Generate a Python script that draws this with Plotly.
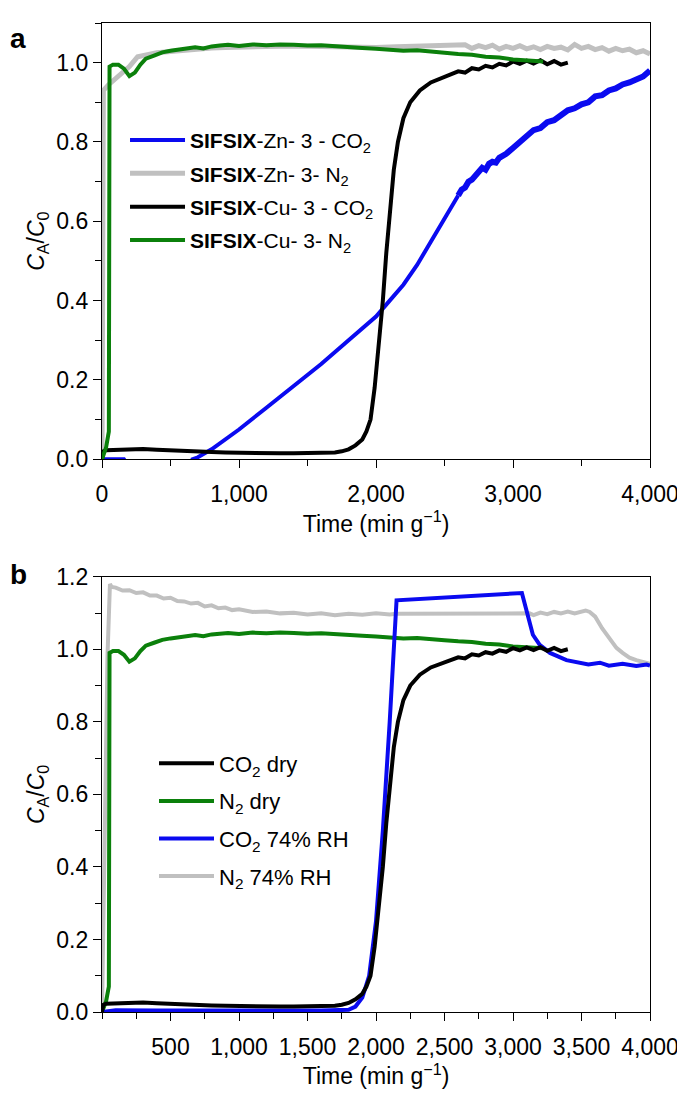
import plotly.graph_objects as go

# ---------------- data ----------------
# Shared: SIFSIX-Cu-3 CO2 (dry) breakthrough
cu_co2_t = [0, 10, 30, 100, 200, 300, 400, 500, 600, 700, 800, 900, 1000, 1100, 1200, 1300,
            1400, 1500, 1600, 1700, 1750, 1800, 1850, 1900, 1930, 1960, 1990, 2020, 2050, 2075,
            2100, 2130, 2160, 2200, 2250, 2320, 2400, 2500, 2600, 2650, 2700, 2750, 2800, 2850,
            2900, 2950, 3000, 3050, 3100, 3150, 3200, 3250, 3300, 3350, 3400]
cu_co2_v = [0.0, 0.020, 0.023, 0.024, 0.025, 0.026, 0.024, 0.022, 0.020, 0.019, 0.018, 0.017,
            0.016, 0.016, 0.015, 0.015, 0.015, 0.015, 0.015, 0.017, 0.020, 0.025, 0.035, 0.050,
            0.070, 0.10, 0.18, 0.28, 0.40, 0.52, 0.63, 0.73, 0.80, 0.86, 0.90, 0.93, 0.950,
            0.965, 0.978, 0.975, 0.986, 0.983, 0.992, 0.988, 0.997, 0.993, 1.003, 0.997, 1.005,
            0.998, 1.006, 0.996, 1.004, 0.995, 1.000]

# Shared: SIFSIX-Cu-3 N2 (dry)
cu_n2_t = [0, 30, 45, 50, 55, 80, 120, 160, 200, 240, 280, 320, 380, 440, 500, 560, 620, 680,
           740, 800, 860, 920, 1000, 1100, 1200, 1300, 1400, 1500, 1600, 1700, 1800, 1900, 2000,
           2100, 2200, 2300, 2400, 2500, 2600, 2700, 2800, 2900, 3000, 3100, 3200, 3220]
cu_n2_v = [0.0, 0.03, 0.06, 0.07, 0.99, 0.995, 0.995, 0.985, 0.966, 0.975, 0.995, 1.010, 1.018,
           1.026, 1.030, 1.033, 1.037, 1.039, 1.036, 1.041, 1.043, 1.045, 1.042, 1.046, 1.044,
           1.046, 1.045, 1.043, 1.044, 1.041, 1.040, 1.037, 1.035, 1.032, 1.030, 1.031, 1.027,
           1.025, 1.022, 1.020, 1.015, 1.013, 1.008, 1.006, 1.004, 1.003]

# Panel a: SIFSIX-Zn-3 CO2 (smooth part, then noisy part)
zn_co2_t = [0, 160, 200, 640, 660, 700, 800, 900, 1000, 1200, 1400, 1600, 1800, 2000, 2100,
            2200, 2300, 2400, 2500, 2600]
zn_co2_v = [0.0, 0.0, -0.02, -0.02, 0.0, 0.005, 0.025, 0.05, 0.075, 0.13, 0.185, 0.24, 0.30,
            0.36, 0.40, 0.44, 0.49, 0.55, 0.61, 0.665]
zn_co2_noisy_t = [2600, 2625, 2650, 2675, 2700, 2725, 2750, 2775, 2800, 2825, 2850, 2875, 2900,
                  2950, 3000, 3050, 3100, 3150, 3200, 3250, 3300, 3350, 3400, 3450, 3500, 3550,
                  3600, 3650, 3700, 3750, 3800, 3850, 3900, 3950, 4000]
zn_co2_noisy_v = [0.665, 0.68, 0.685, 0.70, 0.705, 0.715, 0.72, 0.735, 0.73, 0.745, 0.75, 0.748,
                  0.76, 0.77, 0.785, 0.80, 0.81, 0.83, 0.835, 0.85, 0.855, 0.868, 0.88, 0.885,
                  0.895, 0.90, 0.915, 0.918, 0.93, 0.935, 0.945, 0.95, 0.958, 0.965, 0.98]

# Panel a: SIFSIX-Zn-3 N2
zn_n2_t = [0, 5, 10, 50, 100, 150, 200, 260, 320, 400, 500, 600, 700, 800, 900, 1000, 1200,
           1400, 1600, 1800, 2000, 2150, 2650, 2700, 2750, 2800, 2850, 2900, 2950, 3000, 3050,
           3100, 3150, 3200, 3250, 3300, 3350, 3400, 3450, 3500, 3550, 3600, 3650, 3700, 3750,
           3800, 3850, 3900, 3950, 4000]
zn_n2_v = [0.0, 0.60, 0.93, 0.945, 0.96, 0.975, 0.99, 1.015, 1.02, 1.025, 1.028, 1.032, 1.035,
           1.037, 1.038, 1.040, 1.041, 1.042, 1.040, 1.041, 1.038, 1.040, 1.045, 1.036, 1.043,
           1.038, 1.044, 1.034, 1.041, 1.036, 1.043, 1.035, 1.040, 1.033, 1.041, 1.036, 1.039,
           1.032, 1.046, 1.036, 1.041, 1.033, 1.038, 1.029, 1.036, 1.030, 1.034, 1.025, 1.030,
           1.022]

# Panel b: CO2 74% RH
rh_co2_t = [0, 100, 400, 800, 1200, 1600, 1800, 1850, 1900, 1950, 2000, 2050, 2100, 2130,
            2150, 3065, 3110, 3145, 3195, 3270, 3390, 3450, 3500, 3550, 3635, 3700, 3800, 3900,
            3975, 4000]
rh_co2_v = [0.0, 0.005, 0.004, 0.004, 0.003, 0.004, 0.006, 0.015, 0.04, 0.10, 0.25, 0.50,
            0.80, 1.00, 1.135, 1.155, 1.085, 1.04, 1.012, 0.99, 0.97, 0.965, 0.962, 0.958,
            0.963, 0.955, 0.960, 0.954, 0.958, 0.955]

# Panel b: N2 74% RH
rh_n2_t = [0, 20, 40, 58, 70, 100, 150, 200, 250, 300, 350, 400, 450, 500, 550, 600, 650, 700,
           750, 800, 850, 900, 950, 1000, 1100, 1200, 1300, 1400, 1500, 1600, 1700, 1800, 1900,
           2000, 2100, 2150, 3120, 3150, 3200, 3250, 3300, 3350, 3400, 3450, 3500, 3530, 3560,
           3600, 3650, 3700, 3755, 3800, 3850, 3900, 3950, 4000]
rh_n2_v = [0.0, 0.55, 0.98, 1.18, 1.172, 1.17, 1.162, 1.163, 1.155, 1.157, 1.148, 1.148, 1.140,
           1.142, 1.133, 1.132, 1.126, 1.128, 1.118, 1.121, 1.113, 1.115, 1.108, 1.110, 1.103,
           1.104, 1.099, 1.101, 1.096, 1.099, 1.094, 1.098, 1.095, 1.099, 1.096, 1.098, 1.099,
           1.094, 1.101, 1.097, 1.103, 1.099, 1.104, 1.099, 1.105, 1.107, 1.103, 1.09, 1.058,
           1.03, 1.004, 0.99, 0.977, 0.97, 0.965, 0.96]

legend_a = ["<b>SIFSIX</b>-Zn- 3 - CO<sub>2</sub>", "<b>SIFSIX</b>-Zn- 3- N<sub>2</sub>",
            "<b>SIFSIX</b>-Cu- 3 - CO<sub>2</sub>", "<b>SIFSIX</b>-Cu- 3- N<sub>2</sub>"]
legend_b = ["CO<sub>2</sub> dry", "N<sub>2</sub> dry", "CO<sub>2</sub> 74% RH",
            "N<sub>2</sub> 74% RH"]

x_ticks_a = [0, 1000, 2000, 3000, 4000]
x_ticks_b = [500, 1000, 1500, 2000, 2500, 3000, 3500, 4000]

BLUE = "#0a0af0"
GRAY = "#c0c0c0"
BLACK = "#000000"
GREEN = "#0b800b"
FONT = "Liberation Sans, Arial, sans-serif"

fig = go.Figure()
LW = 4

def add(x, y, color, name, legend, rank, xa, ya, width=LW, show=True):
    fig.add_trace(go.Scatter(x=x, y=y, mode="lines", line=dict(color=color, width=width),
                             name=name, legend=legend, legendrank=rank, legendgroup=legend + name,
                             showlegend=show, xaxis=xa, yaxis=ya))

# panel a
add(zn_n2_t, zn_n2_v, GRAY, legend_a[1], "legend", 2, "x", "y", width=5)
add(zn_co2_t, zn_co2_v, BLUE, legend_a[0], "legend", 1, "x", "y")
add(zn_co2_noisy_t, zn_co2_noisy_v, BLUE, legend_a[0], "legend", 1, "x", "y", width=6, show=False)
add(cu_co2_t, cu_co2_v, BLACK, legend_a[2], "legend", 3, "x", "y")
add(cu_n2_t, cu_n2_v, GREEN, legend_a[3], "legend", 4, "x", "y")

# panel b
add(rh_n2_t, rh_n2_v, GRAY, legend_b[3], "legend2", 4, "x2", "y2")
add(cu_n2_t, cu_n2_v, GREEN, legend_b[1], "legend2", 2, "x2", "y2")
add(rh_co2_t, rh_co2_v, BLUE, legend_b[2], "legend2", 3, "x2", "y2")
add(cu_co2_t, cu_co2_v, BLACK, legend_b[0], "legend2", 1, "x2", "y2")

axis_common = dict(showline=True, linecolor="black", linewidth=1.3, mirror=True,
                   ticks="outside", ticklen=8, tickwidth=1.3, tickcolor="black",
                   showgrid=False, zeroline=False,
                   tickfont=dict(family=FONT, size=23, color="black"))
minor_common = dict(ticks="outside", ticklen=6, tickcolor="black", tickwidth=1.3)

xtitle = dict(text="Time (min g<sup>\u22121</sup>)", font=dict(family=FONT, size=23, color="black"),
              standoff=4)
ytitle = dict(text="<i>C</i><sub>A</sub>/<i>C</i><sub>0</sub>",
              font=dict(family=FONT, size=23, color="black"), standoff=5)

# The page body adds an 8 px offset, so the figure is 8 px smaller and margins shifted.
W, H = 677, 1086
ML, MR, MT, MB = 94, 35, 2, 82
plot_w = W - ML - MR
plot_h = H - MT - MB

fig.update_layout(
    width=W, height=H,
    margin=dict(l=ML, r=MR, t=MT, b=MB),
    paper_bgcolor="white", plot_bgcolor="white",
    showlegend=True,
    xaxis=dict(domain=[0, 1], anchor="y", range=[0, 4000], tickvals=x_ticks_a,
               tickformat=",d", ticklabelstandoff=6,
               minor=dict(dtick=500, tick0=0, **minor_common),
               title=xtitle, **axis_common),
    yaxis=dict(domain=[0.5589, 1], anchor="x", range=[0, 1.1], dtick=0.2, tick0=0,
               tickformat=".1f", minor=dict(dtick=0.1, tick0=0, **minor_common),
               title=ytitle, **axis_common),
    xaxis2=dict(domain=[0, 1], anchor="y2", range=[0, 4000], tickvals=x_ticks_b,
                tickformat=",d", ticklabelstandoff=6,
                minor=dict(dtick=250, tick0=0, **minor_common),
                title=xtitle, **axis_common),
    yaxis2=dict(domain=[0, 0.4401], anchor="x2", range=[0, 1.2], dtick=0.2, tick0=0,
                tickformat=".1f", minor=dict(dtick=0.1, tick0=0, **minor_common),
                title=ytitle, **axis_common),
    legend=dict(x=0.042, y=0.902, xanchor="left", yanchor="top", bgcolor="rgba(0,0,0,0)",
                font=dict(family=FONT, size=21, color="black"), tracegroupgap=3,
                itemwidth=55, traceorder="grouped"),
    legend2=dict(x=0.0949, y=0.2725, xanchor="left", yanchor="top", bgcolor="rgba(0,0,0,0)",
                 font=dict(family=FONT, size=22, color="black"), tracegroupgap=6,
                 itemwidth=55, traceorder="grouped"),
)

def px_to_paper(px, py):
    # screen pixel -> paper coords (screen = figure + 8)
    fx, fy = px - 8, py - 8
    return (fx - ML) / plot_w, 1 - (fy - MT) / plot_h

ax, ay = px_to_paper(8, 8)
bx, by = px_to_paper(8, 583)
fig.add_annotation(text="<b>a</b>", x=ax, y=ay, xref="paper", yref="paper", showarrow=False,
                   xanchor="left", yanchor="top",
                   font=dict(family=FONT, size=28, color="black"))
fig.add_annotation(text="<b>b</b>", x=bx, y=by, xref="paper", yref="paper", showarrow=False,
                   xanchor="left", yanchor="bottom", yshift=-3,
                   font=dict(family=FONT, size=28, color="black"))

fig.write_html("out.html")
